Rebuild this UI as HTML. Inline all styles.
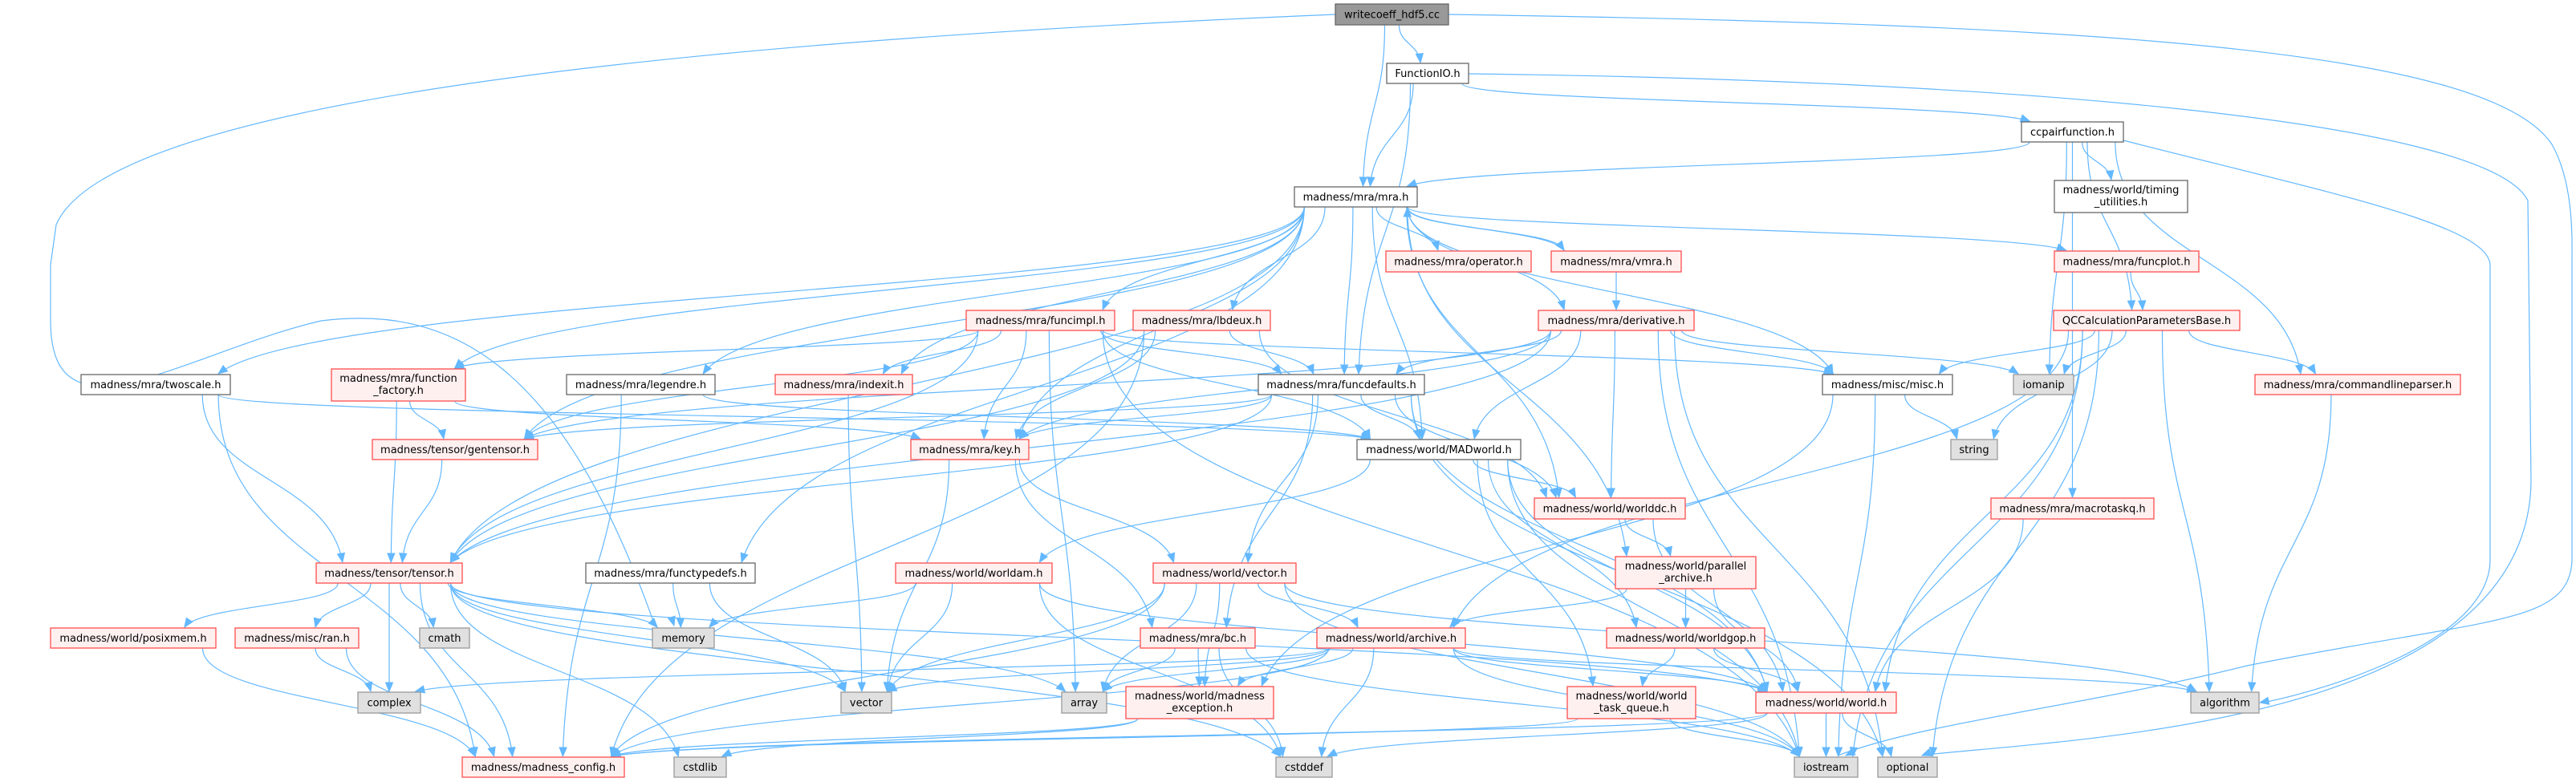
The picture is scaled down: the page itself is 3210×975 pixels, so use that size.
<!DOCTYPE html>
<html><head><meta charset="utf-8"><style>
html,body{margin:0;padding:0;background:#fff;}
svg{display:block;}
text{font-family:"DejaVu Sans","Liberation Sans",sans-serif;font-size:13px;fill:#000;}
</style></head><body>
<svg id="g" width="3210" height="975" viewBox="0 0 3210 975" xmlns="http://www.w3.org/2000/svg">
<g id="edges" fill="none" stroke="#63b8ff" stroke-width="1.2"></g>
<g id="arrows" fill="#63b8ff" stroke="#63b8ff"></g>
<g id="nodes"></g>
</svg>
<script>
var N={
wc:[1664,5,1805,31,"k",["writecoeff_hdf5.cc"]],
fio:[1728,79,1830,104,"w",["FunctionIO.h"]],
mra:[1613,233,1766,258,"w",["madness/mra/mra.h"]],
ccp:[2519,152,2646,177,"w",["ccpairfunction.h"]],
tim:[2560,225,2726,265,"w",["madness/world/timing","_utilities.h"]],
op:[1727,313,1908,339,"r",["madness/mra/operator.h"]],
vmra:[1933,313,2095,339,"r",["madness/mra/vmra.h"]],
fplot:[2560,313,2740,339,"r",["madness/mra/funcplot.h"]],
fimpl:[1204,387,1389,412,"r",["madness/mra/funcimpl.h"]],
lbd:[1412,387,1583,412,"r",["madness/mra/lbdeux.h"]],
der:[1917,387,2111,412,"r",["madness/mra/derivative.h"]],
qcc:[2559,387,2791,412,"r",["QCCalculationParametersBase.h"]],
two:[101,467,287,492,"w",["madness/mra/twoscale.h"]],
ff:[413,460,580,500,"r",["madness/mra/function","_factory.h"]],
leg:[706,467,891,492,"w",["madness/mra/legendre.h"]],
idx:[966,467,1137,492,"r",["madness/mra/indexit.h"]],
fdef:[1568,467,1775,492,"w",["madness/mra/funcdefaults.h"]],
misc:[2271,467,2433,492,"w",["madness/misc/misc.h"]],
iom:[2509,467,2584,492,"g",["iomanip"]],
clp:[2810,467,3066,492,"r",["madness/mra/commandlineparser.h"]],
gten:[464,548,670,573,"r",["madness/tensor/gentensor.h"]],
key:[1135,548,1282,573,"r",["madness/mra/key.h"]],
madw:[1691,548,1895,573,"w",["madness/world/MADworld.h"]],
str:[2431,548,2489,573,"g",["string"]],
wdc:[1912,621,2100,647,"r",["madness/world/worlddc.h"]],
mtq:[2481,621,2684,647,"r",["madness/mra/macrotaskq.h"]],
ten:[394,702,576,727,"r",["madness/tensor/tensor.h"]],
ftd:[730,702,941,727,"w",["madness/mra/functypedefs.h"]],
wam:[1116,702,1311,727,"r",["madness/world/worldam.h"]],
vec:[1437,702,1615,727,"r",["madness/world/vector.h"]],
par:[2013,694,2188,734,"r",["madness/world/parallel","_archive.h"]],
pos:[63,783,269,808,"r",["madness/world/posixmem.h"]],
ran:[293,783,447,808,"r",["madness/misc/ran.h"]],
cmath:[523,783,585,808,"g",["cmath"]],
mem:[813,783,890,808,"g",["memory"]],
bc:[1421,783,1564,808,"r",["madness/mra/bc.h"]],
arc:[1641,783,1826,808,"r",["madness/world/archive.h"]],
gop:[2002,783,2199,808,"r",["madness/world/worldgop.h"]],
cplx:[446,863,524,889,"g",["complex"]],
svec:[1048,863,1111,889,"g",["vector"]],
arr:[1323,863,1379,889,"g",["array"]],
exc:[1403,856,1587,896,"r",["madness/world/madness","_exception.h"]],
tq:[1953,856,2113,896,"r",["madness/world/world","_task_queue.h"]],
world:[2188,863,2363,889,"r",["madness/world/world.h"]],
alg:[2730,863,2815,889,"g",["algorithm"]],
cfg:[576,944,778,969,"r",["madness/madness_config.h"]],
cstdlib:[840,944,905,969,"g",["cstdlib"]],
cstddef:[1590,944,1660,969,"g",["cstddef"]],
ios:[2236,944,2315,969,"g",["iostream"]],
opt:[2340,944,2414,969,"g",["optional"]]
};
var E=[
["wc","fio"],["wc","mra"],
["fio","mra"],["fio","fdef"],["fio","ccp"],
["ccp","mra"],["ccp","tim"],["ccp","qcc"],["ccp","clp"],["ccp","iom"],["ccp","mtq"],
["mra","two"],["mra","ff"],["mra","leg"],["mra","idx"],["mra","fimpl"],["mra","lbd"],["mra","fdef"],["mra","op"],["mra","vmra"],["mra","der"],["mra","fplot"],["mra","misc"],["mra","madw"],["mra","key"],["mra","ten"],["mra","ftd"],["mra","wdc"],["mra","par"],["mra","gten"],
["vmra","mra"],["vmra","der"],["fplot","qcc"],
["qcc","misc"],["qcc","iom"],["qcc","clp"],["qcc","str"],["qcc","alg"],["qcc","world"],["qcc","arc"],["qcc","ios"],["qcc","opt"],
["clp","alg"],
["der","fdef"],["der","key"],["der","gten"],["der","madw"],["der","wdc"],["der","misc"],["der","iom"],["der","ios"],["der","ten"],["der","opt"],
["fimpl","ff"],["fimpl","idx"],["fimpl","gten"],["fimpl","key"],["fimpl","fdef"],["fimpl","madw"],["fimpl","misc"],["fimpl","ten"],["fimpl","arr"],["fimpl","ios"],
["lbd","fdef"],["lbd","key"],["lbd","wdc"],["lbd","cfg"],["lbd","ten"],
["two","ten"],["two","cfg"],["two","madw"],
["ff","gten"],["ff","ten"],["ff","key"],
["leg","cfg"],["leg","madw"],["idx","svec"],
["fdef","key"],["fdef","madw"],["fdef","wdc"],["fdef","vec"],["fdef","bc"],["fdef","ten"],["fdef","gten"],["fdef","opt"],["fdef","world"],
["gten","ten"],
["ten","pos"],["ten","ran"],["ten","cmath"],["ten","cplx"],["ten","mem"],["ten","svec"],["ten","arr"],["ten","cfg"],["ten","cstdlib"],["ten","cstddef"],["ten","world"],
["ftd","mem"],["ftd","svec"],["pos","cfg"],["ran","cplx"],["ran","cfg"],
["key","vec"],["key","bc"],["key","svec"],
["madw","wam"],["madw","wdc"],["madw","world"],["madw","tq"],["madw","gop"],["madw","ios"],
["wdc","par"],["wdc","world"],
["par","arc"],["par","gop"],["par","world"],
["wam","svec"],["wam","mem"],["wam","cstddef"],["wam","world"],
["vec","arc"],["vec","exc"],["vec","svec"],["vec","arr"],["vec","cfg"],["vec","alg"],["vec","ios"],
["bc","exc"],["bc","arr"],["bc","cstddef"],["bc","ios"],
["arc","exc"],["arc","cplx"],["arc","svec"],["arc","arr"],["arc","cstddef"],["arc","cfg"],["arc","alg"],["arc","ios"],["arc","world"],
["gop","world"],["gop","tq"],
["exc","cfg"],["exc","cstdlib"],
["tq","cfg"],["tq","ios"],
["world","cfg"],["world","cstddef"],["world","ios"],["world","opt"],
["misc","str"],["misc","ios"],["misc","exc"],["mtq","world"]
];
var NS="http://www.w3.org/2000/svg";
function el(t,a,p){var e=document.createElementNS(NS,t);for(var k in a)e.setAttribute(k,a[k]);p.appendChild(e);return e;}
var ge=document.getElementById("edges"),ga=document.getElementById("arrows"),gn=document.getElementById("nodes");
function arrow(x,y,dx,dy){var l=Math.sqrt(dx*dx+dy*dy)||1;dx/=l;dy/=l;var L=11,W=4.5;
var bx=x-dx*L,by=y-dy*L;
el("path",{d:"M"+x+","+y+"L"+(bx-dy*W)+","+(by+dx*W)+"L"+(bx+dy*W)+","+(by-dx*W)+"Z"},ga);}
function cl(v,a){return Math.max(-a,Math.min(a,v));}
function edge(s,t){var S=N[s],T=N[t];
var scx=(S[0]+S[2])/2,tcx=(T[0]+T[2])/2,sw=S[2]-S[0],tw=T[2]-T[0];
var sx,sy,tx,ty,c1x,c1y,c2x,c2y;
if(T[1]>S[3]+8){
 sx=scx+cl((tcx-scx)*0.2,sw*0.42);sy=S[3];
 tx=tcx+cl((scx-tcx)*0.2,tw*0.42);ty=T[1]-1;
 var m=(ty-sy)*0.5;c1x=sx;c1y=sy+m;c2x=tx+(sx-tx)*0.1;c2y=ty-m;
}else if(T[3]<S[1]-8){
 sx=scx+cl((tcx-scx)*0.2,sw*0.42);sy=S[1];
 tx=tcx+cl((scx-tcx)*0.2,tw*0.42);ty=T[3]+1;
 var m=(sy-ty)*0.5;c1x=sx;c1y=sy-m;c2x=tx;c2y=ty+m;
}else{
 var r=tcx>scx;sx=r?S[2]:S[0];sy=(S[1]+S[3])/2;tx=r?T[0]-1:T[2]+1;ty=(T[1]+T[3])/2;
 c1x=(sx+tx)/2;c1y=sy;c2x=(sx+tx)/2;c2y=ty;
}
el("path",{d:"M"+sx+","+sy+"C"+c1x+","+c1y+" "+c2x+","+c2y+" "+tx+","+ty},ge);
arrow(tx,ty,tx-c2x,ty-c2y);}
E.forEach(function(e){edge(e[0],e[1]);});
el("path",{d:"M1664,18C900,50 140,120 70,280L63,330L63,400C63,560 230,440 400,400C560,380 700,450 816,780"},ge);
arrow(840,780,0.3,1);
el("path",{d:"M1805,18C2600,30 3100,60 3180,180C3208,230 3205,300 3205,330L3205,700C3200,780 3100,770 2800,830C2600,880 2400,900 2290,942"},ge);
arrow(2300,942,-0.8,0.4);
el("path",{d:"M1830,92C2500,100 3100,150 3150,250L3154,600C3150,900 2600,920 2400,941"},ge);
arrow(2395,942,-0.8,0.3);
el("path",{d:"M2646,175C2900,240 3100,280 3103,330L3103,700C3100,800 2900,860 2820,876"},ge);
arrow(2816,876,-1,0.2);
for(var k in N){var n=N[k];var f,s,sw=1.3;
if(n[4]=="r"){f="#fff0f0";s="#ff4d4d";}else if(n[4]=="w"){f="#ffffff";s="#666666";}else if(n[4]=="g"){f="#e0e0e0";s="#999999";}else{f="#999999";s="#666666";}
el("rect",{x:n[0],y:n[1],width:n[2]-n[0],height:n[3]-n[1],fill:f,stroke:s,"stroke-width":sw},gn);
var cx=(n[0]+n[2])/2,lines=n[5];
if(lines.length==1){var t=el("text",{x:cx,y:(n[1]+n[3])/2+4.5,"text-anchor":"middle"},gn);t.textContent=lines[0];}
else{for(var i=0;i<2;i++){var t=el("text",{x:cx,y:n[1]+16+i*15,"text-anchor":"middle"},gn);t.textContent=lines[i];}}
}
</script>
</body></html>
